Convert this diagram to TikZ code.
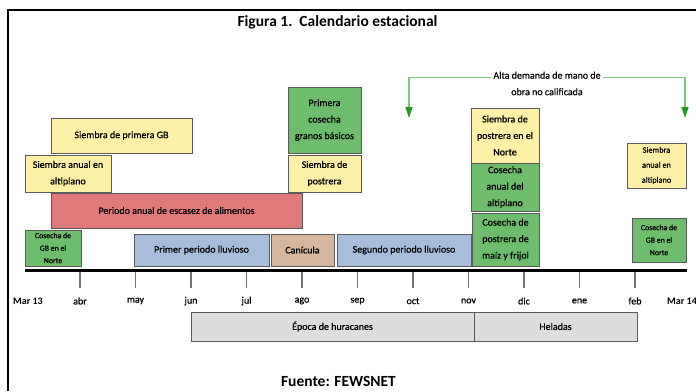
\documentclass[tikz,border=0pt]{standalone}
\usepackage{fontspec}
\setmainfont{Carlito}
\newfontfamily\semib[FakeBold=0.6]{Carlito}
\usetikzlibrary{arrows.meta,calc}
\definecolor{cyel}{RGB}{253,241,168}
\definecolor{cgrn}{RGB}{110,189,108}
\definecolor{cred}{RGB}{224,122,122}
\definecolor{cblu}{RGB}{166,190,220}
\definecolor{ctan}{RGB}{214,183,157}
\definecolor{cgry}{RGB}{221,221,221}
\definecolor{cbrd}{RGB}{90,90,90}
\definecolor{clin}{RGB}{125,200,125}
\definecolor{chead}{RGB}{40,150,40}
\tikzset{
  box/.style={draw=cbrd, line width=1pt, align=center, inner sep=0pt, outer sep=0pt,
    font=\semib\fontsize{10}{16.5}\selectfont},
  smallbox/.style={box, font=\semib\fontsize{7.8}{12.5}\selectfont},
  yel/.style={fill=cyel}, grn/.style={fill=cgrn}, red/.style={fill=cred},
  blu/.style={fill=cblu}, tan/.style={fill=ctan}, gry/.style={fill=cgry},
  sz/.style 2 args={minimum width=#1pt, minimum height=#2pt},
  month/.style={font=\semib\fontsize{10}{12}\selectfont, inner sep=0pt},
  mar/.style={font=\bfseries\fontsize{10}{12}\selectfont, inner sep=0pt},
  tickline/.style={draw=black!55, line width=1.2pt},
  gline/.style={draw=clin, line width=1.3pt, -{Triangle[length=11pt,width=7pt,color=chead]}},
}
\begin{document}
\begin{tikzpicture}[x=1pt,y=-1pt]
\useasboundingbox (0,0) rectangle (696,391);
\fill[white] (0,0) rectangle (696,391);
% frame
\draw[line width=2.5pt] (8,391) -- (8,10) -- (696,10);
% title
\node[font=\bfseries\fontsize{15.5}{18}\selectfont] (title) at (337.5,22) {Figura 1.\ \ Calendario estacional};
% axis
\coordinate (ax0) at (25,270);
\coordinate (ax1) at (687,270);
\draw[line width=3pt] (ax0) -- (ax1);
% ticks and months
\foreach \m/\x in {abr/80,may/135.5,jun/191,jul/246.5,ago/302,sep/357.5,oct/413,nov/468.5,dic/524,ene/579.5,feb/635}{
  \coordinate (t\m) at (\x,272);
  \coordinate (b\m) at (\x,288);
  \draw[tickline] (t\m) -- (b\m);
  \node[month] (l\m) at (\x,301) {\m};
}
\node[mar] (lmar13) at (28,301) {Mar 13};
\node[mar, anchor=west] (lmar14) at (667,301) {Mar 14};
% boxes
\node[smallbox, grn, sz={56}{36}] (gbL) at (53,248) {Cosecha de\\GB en el\\Norte};
\node[box, blu, sz={135}{32}] (prim) at (201.5,250) {Primer periodo lluvioso};
\node[box, tan, sz={63}{32}] (can) at (302.5,250) {Canícula};
\node[box, blu, sz={134}{32}] (seg) at (404,250) {Segundo periodo lluvioso};
\node[box, grn, sz={67}{53}] (cpm) at (505.5,239.5) {Cosecha de\\postrera de\\maíz y frijol};
\node[smallbox, grn, sz={54}{44}] (gbR) at (659,240) {Cosecha de\\GB en el\\Norte};
\node[box, red, sz={251}{35}] (esc) at (176.5,210.5) {Periodo anual de escasez de alimentos};
\node[box, yel, sz={86}{37}] (saL) at (68,173.5) {Siembra anual en\\altiplano};
\node[box, yel, sz={141}{35}] (spg) at (121.5,135.5) {Siembra de primera GB};
\node[box, grn, sz={73}{66}] (pcg) at (324.5,120) {Primera\\cosecha\\granos básicos};
\node[box, yel, sz={73}{37}] (sp) at (324.5,173.5) {Siembra de\\postrera};
\node[box, yel, sz={68}{55}] (spn) at (505,135.5) {Siembra de\\postrera en el\\Norte};
\node[box, grn, sz={68}{48}] (caa) at (505,187) {Cosecha\\anual del\\altiplano};
\node[box, yel, sz={59}{45}, font=\semib\fontsize{8.3}{15}\selectfont] (saR) at (656.5,165.5) {Siembra\\anual en\\altiplano};
\node[box, gry, sz={283}{29}] (hur) at (332.5,326.5) {Época de huracanes};
\node[box, gry, sz={163}{29}] (hel) at (555.5,326.5) {Heladas};
% arrows
\node[box, draw=none, align=center, inner sep=2pt] (alta) at (547,83.5) {Alta demanda de mano de\\obra no calificada};
\coordinate (aL) at (409,118);
\coordinate (aR) at (685,118);
\draw[gline] ($(alta.north west)+(0,8)$) -| (aL);
\draw[gline] ($(alta.north east)+(0,8)$) -| (aR);
% source
\node[font=\bfseries\fontsize{15.5}{18}\selectfont] (src) at (338.5,381) {Fuente: FEWSNET};
\end{tikzpicture}
\end{document}
